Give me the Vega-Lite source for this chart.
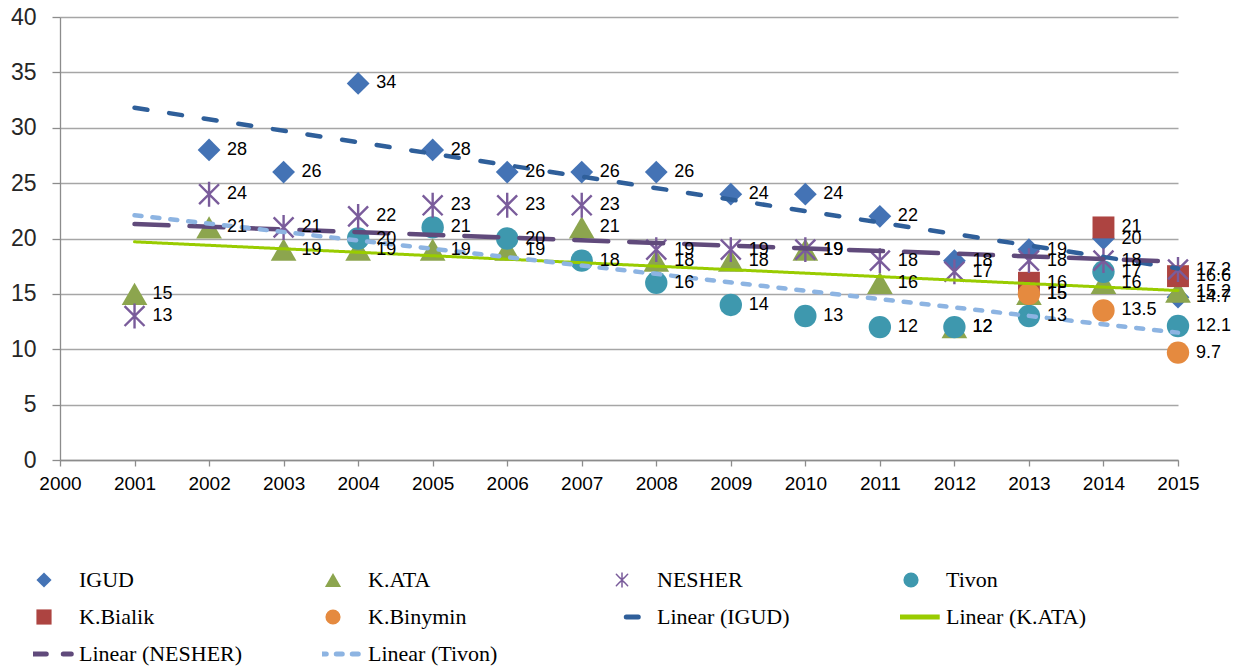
{
  "$schema": "https://vega.github.io/schema/vega-lite/v6.json",
  "width": 1118,
  "height": 443,
  "autosize": {"type": "none"},
  "padding": {"left": 60, "top": 17, "right": 60, "bottom": 208},
  "background": "white",
  "config": {"view": {"stroke": null}, "font": "Liberation Sans"},
  "datasets": {
    "points": [
      {"series": "IGUD", "year": 2002, "value": 28},
      {"series": "IGUD", "year": 2003, "value": 26},
      {"series": "IGUD", "year": 2004, "value": 34},
      {"series": "IGUD", "year": 2005, "value": 28},
      {"series": "IGUD", "year": 2006, "value": 26},
      {"series": "IGUD", "year": 2007, "value": 26},
      {"series": "IGUD", "year": 2008, "value": 26},
      {"series": "IGUD", "year": 2009, "value": 24},
      {"series": "IGUD", "year": 2010, "value": 24},
      {"series": "IGUD", "year": 2011, "value": 22},
      {"series": "IGUD", "year": 2012, "value": 18},
      {"series": "IGUD", "year": 2013, "value": 19},
      {"series": "IGUD", "year": 2014, "value": 20},
      {"series": "IGUD", "year": 2015, "value": 14.7},
      {"series": "K.ATA", "year": 2001, "value": 15},
      {"series": "K.ATA", "year": 2002, "value": 21},
      {"series": "K.ATA", "year": 2003, "value": 19},
      {"series": "K.ATA", "year": 2004, "value": 19},
      {"series": "K.ATA", "year": 2005, "value": 19},
      {"series": "K.ATA", "year": 2006, "value": 19},
      {"series": "K.ATA", "year": 2007, "value": 21},
      {"series": "K.ATA", "year": 2008, "value": 18},
      {"series": "K.ATA", "year": 2009, "value": 18},
      {"series": "K.ATA", "year": 2010, "value": 19},
      {"series": "K.ATA", "year": 2011, "value": 16},
      {"series": "K.ATA", "year": 2012, "value": 12},
      {"series": "K.ATA", "year": 2013, "value": 15},
      {"series": "K.ATA", "year": 2014, "value": 16},
      {"series": "K.ATA", "year": 2015, "value": 15.2},
      {"series": "NESHER", "year": 2001, "value": 13},
      {"series": "NESHER", "year": 2002, "value": 24},
      {"series": "NESHER", "year": 2003, "value": 21},
      {"series": "NESHER", "year": 2004, "value": 22},
      {"series": "NESHER", "year": 2005, "value": 23},
      {"series": "NESHER", "year": 2006, "value": 23},
      {"series": "NESHER", "year": 2007, "value": 23},
      {"series": "NESHER", "year": 2008, "value": 19},
      {"series": "NESHER", "year": 2009, "value": 19},
      {"series": "NESHER", "year": 2010, "value": 19},
      {"series": "NESHER", "year": 2011, "value": 18},
      {"series": "NESHER", "year": 2012, "value": 17},
      {"series": "NESHER", "year": 2013, "value": 18},
      {"series": "NESHER", "year": 2014, "value": 18},
      {"series": "NESHER", "year": 2015, "value": 17.2},
      {"series": "Tivon", "year": 2004, "value": 20},
      {"series": "Tivon", "year": 2005, "value": 21},
      {"series": "Tivon", "year": 2006, "value": 20},
      {"series": "Tivon", "year": 2007, "value": 18},
      {"series": "Tivon", "year": 2008, "value": 16},
      {"series": "Tivon", "year": 2009, "value": 14},
      {"series": "Tivon", "year": 2010, "value": 13},
      {"series": "Tivon", "year": 2011, "value": 12},
      {"series": "Tivon", "year": 2012, "value": 12},
      {"series": "Tivon", "year": 2013, "value": 13},
      {"series": "Tivon", "year": 2014, "value": 17},
      {"series": "Tivon", "year": 2015, "value": 12.1},
      {"series": "K.Bialik", "year": 2013, "value": 16},
      {"series": "K.Bialik", "year": 2014, "value": 21},
      {"series": "K.Bialik", "year": 2015, "value": 16.6},
      {"series": "K.Binymin", "year": 2013, "value": 15},
      {"series": "K.Binymin", "year": 2014, "value": 13.5},
      {"series": "K.Binymin", "year": 2015, "value": 9.7}
    ],
    "trends": [
      {"series": "Linear (IGUD)", "year": 2001, "value": 31.8},
      {"series": "Linear (IGUD)", "year": 2015, "value": 17.3},
      {"series": "Linear (K.ATA)", "year": 2001, "value": 19.7},
      {"series": "Linear (K.ATA)", "year": 2015, "value": 15.3},
      {"series": "Linear (NESHER)", "year": 2001, "value": 21.3},
      {"series": "Linear (NESHER)", "year": 2015, "value": 17.9},
      {"series": "Linear (Tivon)", "year": 2001, "value": 22.1},
      {"series": "Linear (Tivon)", "year": 2015, "value": 11.5}
    ]
  },
  "encoding": {
    "x": {
      "field": "year", "type": "quantitative",
      "scale": {"domain": [2000, 2015], "nice": false, "zero": false},
      "axis": {
        "title": null, "values": [2000, 2001, 2002, 2003, 2004, 2005, 2006, 2007, 2008, 2009, 2010, 2011, 2012, 2013, 2014, 2015],
        "format": "d", "grid": false, "domainColor": "#8c8c8c", "domainWidth": 1.3, "tickColor": "#8c8c8c", "tickWidth": 1.3, "tickSize": 6,
        "labelFontSize": 19, "labelColor": "#000000", "labelPadding": 8, "labelFlush": false, "labelOverlap": false, "labelFont": "Liberation Sans"
      }
    },
    "y": {
      "field": "value", "type": "quantitative",
      "scale": {"domain": [0, 40], "nice": false, "zero": true},
      "axis": {
        "title": null, "values": [0, 5, 10, 15, 20, 25, 30, 35, 40],
        "grid": true, "gridColor": "#a6a6a6", "gridWidth": 1.3, "domainColor": "#8c8c8c", "domainWidth": 1.3, "tickColor": "#8c8c8c", "tickWidth": 1.3, "tickSize": 8,
        "labelFontSize": 23, "labelColor": "#262626", "labelPadding": 16, "labelFont": "Liberation Sans"
      }
    }
  },
  "layer": [
    {
      "data": {"name": "points"},
      "transform": [{"filter": "datum.series != 'NESHER'"}],
      "mark": {"type": "point", "filled": true, "opacity": 1},
      "encoding": {
        "color": {
          "field": "series", "type": "nominal",
          "scale": {
            "domain": ["IGUD", "K.ATA", "NESHER", "Tivon", "K.Bialik", "K.Binymin", "Linear (IGUD)", "Linear (K.ATA)", "Linear (NESHER)", "Linear (Tivon)"],
            "range": ["#4473b5", "#8ca54e", "#7a5c9b", "#3e98ae", "#ad4441", "#e58a3f", "#2f5f9a", "#99cc00", "#604a7b", "#8db4e2"]
          },
          "legend": {
            "title": null, "orient": "none", "legendX": -27, "legendY": 551, "columns": 4, "direction": "horizontal", "gridAlign": "all",
            "columnPadding": 79, "rowPadding": 13, "clipHeight": 24,
            "labelFont": "Liberation Serif", "labelFontSize": 22, "labelColor": "#000000", "labelLimit": 400,
            "labelOffset": 24, "symbolOffset": 0, "padding": 0, "offset": 0,
            "encoding": {
              "symbols": {
                "shape": {"value": {"signal": "((datum.value == 'Linear (IGUD)' || datum.value == 'Linear (K.ATA)' || datum.value == 'Linear (NESHER)' || datum.value == 'Linear (Tivon)') ? 'stroke' : (datum.value == 'IGUD' ? 'diamond' : (datum.value == 'K.ATA' ? 'triangle-up' : (datum.value == 'K.Bialik' ? 'square' : (datum.value == 'NESHER' ? 'M-0.8,-0.8L0.8,0.8M-0.8,0.8L0.8,-0.8M0,-1L0,1' : 'circle')))))"}},
                "fill": {"value": {"signal": "((datum.value == 'Linear (IGUD)' || datum.value == 'Linear (K.ATA)' || datum.value == 'Linear (NESHER)' || datum.value == 'Linear (Tivon)' || datum.value == 'NESHER') ? 'transparent' : scale('color', datum.value))"}},
                "stroke": {"value": {"signal": "(datum.value == 'NESHER' ? '#9a85bd' : scale('color', datum.value))"}},
                "strokeWidth": {"value": {"signal": "((datum.value == 'Linear (IGUD)' || datum.value == 'Linear (K.ATA)' || datum.value == 'Linear (NESHER)' || datum.value == 'Linear (Tivon)') ? 5 : (datum.value == 'NESHER' ? 1.5 : 0))"}},
                "strokeDash": {"value": {"signal": "(datum.value == 'Linear (IGUD)' ? [12, 21] : (datum.value == 'Linear (NESHER)' ? [31, 17, 8, 100] : (datum.value == 'Linear (Tivon)' ? [6, 10] : [1, 0])))"}},
                "strokeCap": {"value": {"signal": "(datum.value == 'Linear (K.ATA)' ? 'butt' : 'round')"}},
                "size": {"value": {"signal": "((datum.value == 'Linear (IGUD)' || datum.value == 'Linear (K.ATA)' || datum.value == 'Linear (NESHER)' || datum.value == 'Linear (Tivon)') ? 3300 : (datum.value == 'K.ATA' ? 260 : (datum.value == 'NESHER' ? 200 : 230)))"}},
                "opacity": {"value": 1}
              }
            }
          }
        },
        "shape": {
          "field": "series", "type": "nominal",
          "scale": {
            "domain": ["IGUD", "K.ATA", "NESHER", "Tivon", "K.Bialik", "K.Binymin"],
            "range": ["diamond", "triangle-up", "M-0.8,-0.8L0.8,0.8M-0.8,0.8L0.8,-0.8M0,-1L0,1", "circle", "square", "circle"]
          },
          "legend": null
        },
        "size": {
          "field": "series", "type": "nominal",
          "scale": {
            "type": "ordinal",
            "domain": ["IGUD", "K.ATA", "NESHER", "Tivon", "K.Bialik", "K.Binymin"],
            "range": [520, 660, 576, 500, 480, 500]
          },
          "legend": null
        }
      }
    },
    {
      "data": {"name": "points"},
      "transform": [{"filter": "datum.series == 'NESHER'"}],
      "mark": {"type": "point", "filled": false, "opacity": 1, "strokeWidth": 2.4, "size": 620},
      "encoding": {
        "color": {
          "field": "series", "type": "nominal",
          "scale": {
            "domain": ["IGUD", "K.ATA", "NESHER", "Tivon", "K.Bialik", "K.Binymin", "Linear (IGUD)", "Linear (K.ATA)", "Linear (NESHER)", "Linear (Tivon)"],
            "range": ["#4473b5", "#8ca54e", "#7a5c9b", "#3e98ae", "#ad4441", "#e58a3f", "#2f5f9a", "#99cc00", "#604a7b", "#8db4e2"]
          }
        },
        "shape": {"field": "series", "type": "nominal", "legend": null}
      }
    },
    {
      "data": {"name": "trends"},
      "mark": {"type": "line", "strokeCap": "round"},
      "encoding": {
        "color": {
          "field": "series", "type": "nominal",
          "scale": {
            "domain": ["IGUD", "K.ATA", "NESHER", "Tivon", "K.Bialik", "K.Binymin", "Linear (IGUD)", "Linear (K.ATA)", "Linear (NESHER)", "Linear (Tivon)"],
            "range": ["#4473b5", "#8ca54e", "#7a5c9b", "#3e98ae", "#ad4441", "#e58a3f", "#2f5f9a", "#99cc00", "#604a7b", "#8db4e2"]
          }
        },
        "strokeDash": {
          "field": "series", "type": "nominal",
          "scale": {
            "domain": ["Linear (IGUD)", "Linear (K.ATA)", "Linear (NESHER)", "Linear (Tivon)"],
            "range": [[13, 22], [1, 0], [34, 21], [7, 11]]
          },
          "legend": null
        },
        "strokeWidth": {
          "field": "series", "type": "nominal",
          "scale": {
            "type": "ordinal",
            "domain": ["Linear (IGUD)", "Linear (K.ATA)", "Linear (NESHER)", "Linear (Tivon)"],
            "range": [4.5, 3, 4.5, 4.5]
          },
          "legend": null
        }
      }
    },
    {
      "data": {"name": "points"},
      "mark": {"type": "text", "align": "left", "baseline": "middle", "dx": 18, "fontSize": 18, "font": "Liberation Sans", "color": "#000000"},
      "encoding": {
        "text": {"field": "value", "type": "nominal"}
      }
    }
  ]
}
